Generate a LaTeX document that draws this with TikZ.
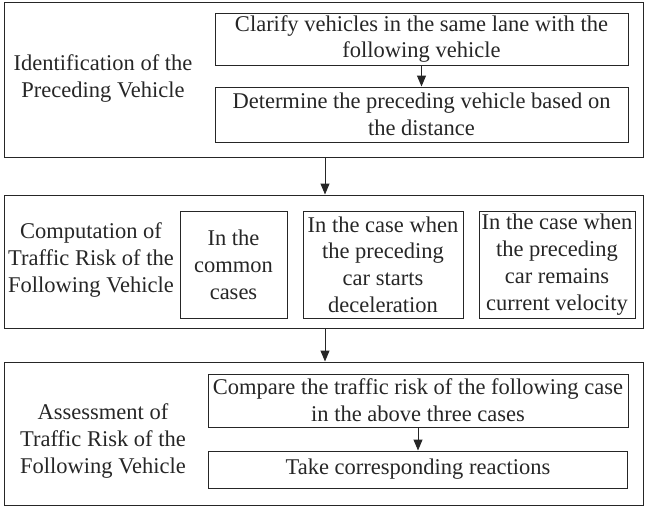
\documentclass[tikz,border=0pt]{standalone}
\usepackage{fontspec}
\setmainfont{Liberation Serif}
\usetikzlibrary{arrows.meta}
\begin{document}
\begin{tikzpicture}[x=1pt,y=-1pt,
  outerbox/.style={draw=black!85, line width=1pt, inner sep=0pt},
  innerbox/.style={draw=black!85, line width=1pt, inner sep=0pt, align=center, font=\fontsize{22.5}{26.8}\selectfont, text=black!85},
  lbl/.style={inner sep=0pt, align=center, font=\fontsize{22.5}{26.8}\selectfont, text=black!85},
  arr/.style={draw=black!85, line width=1pt, -{Triangle[length=11pt,width=9pt]}}]
\useasboundingbox (0,0) rectangle (647,509);
% outer boxes
\node[outerbox, minimum width=639pt, minimum height=155pt] (o1) at (323.5,79.5) {};
\node[outerbox, minimum width=639pt, minimum height=133pt] (o2) at (323.5,261.5) {};
\node[outerbox, minimum width=639pt, minimum height=143pt] (o3) at (323.5,433.5) {};
% labels
\node[lbl] (l1) at (103,78.5) {Identification of the\\Preceding Vehicle};
\node[lbl] (l2) at (91,260) {Computation of\\Traffic Risk of the\\Following Vehicle};
\node[lbl] (l3) at (103,441) {Assessment of\\Traffic Risk of the\\Following Vehicle};
% stage 1
\node[innerbox, minimum width=413pt, minimum height=52pt] (a1) at (421.5,39) {Clarify vehicles in the same lane with the\\following vehicle};
\node[innerbox, minimum width=413pt, minimum height=55pt] (a2) at (421.5,114.5) {Determine the preceding vehicle based on\\the distance};
% stage 2
\node[innerbox, minimum width=107pt, minimum height=107pt] (b1) at (233.5,264.5) {In the\\common\\cases};
\node[innerbox, minimum width=160pt, minimum height=107pt] (b2) at (383,264.5) {In the case when\\the preceding\\car starts\\deceleration};
\node[innerbox, minimum width=156pt, minimum height=107pt] (b3) at (557,264.5) {In the case when\\the preceding\\car remains\\current velocity};
% stage 3
\node[innerbox, minimum width=420pt, minimum height=53pt] (c1) at (418,400.5) {Compare the traffic risk of the following case\\in the above three cases};
\node[innerbox, minimum width=419pt, minimum height=37pt] (c2) at (418,469.5) {Take corresponding reactions};
% arrows
\draw[arr] (a1.south) -- (a2.north);
\draw[arr] (c1.south) -- (c2.north);
\draw[arr] ([xshift=1.5pt]o1.south) -- ([xshift=1.5pt]o2.north);
\draw[arr] ([xshift=1.5pt]o2.south) -- ([xshift=1.5pt]o3.north);
\end{tikzpicture}
\end{document}
